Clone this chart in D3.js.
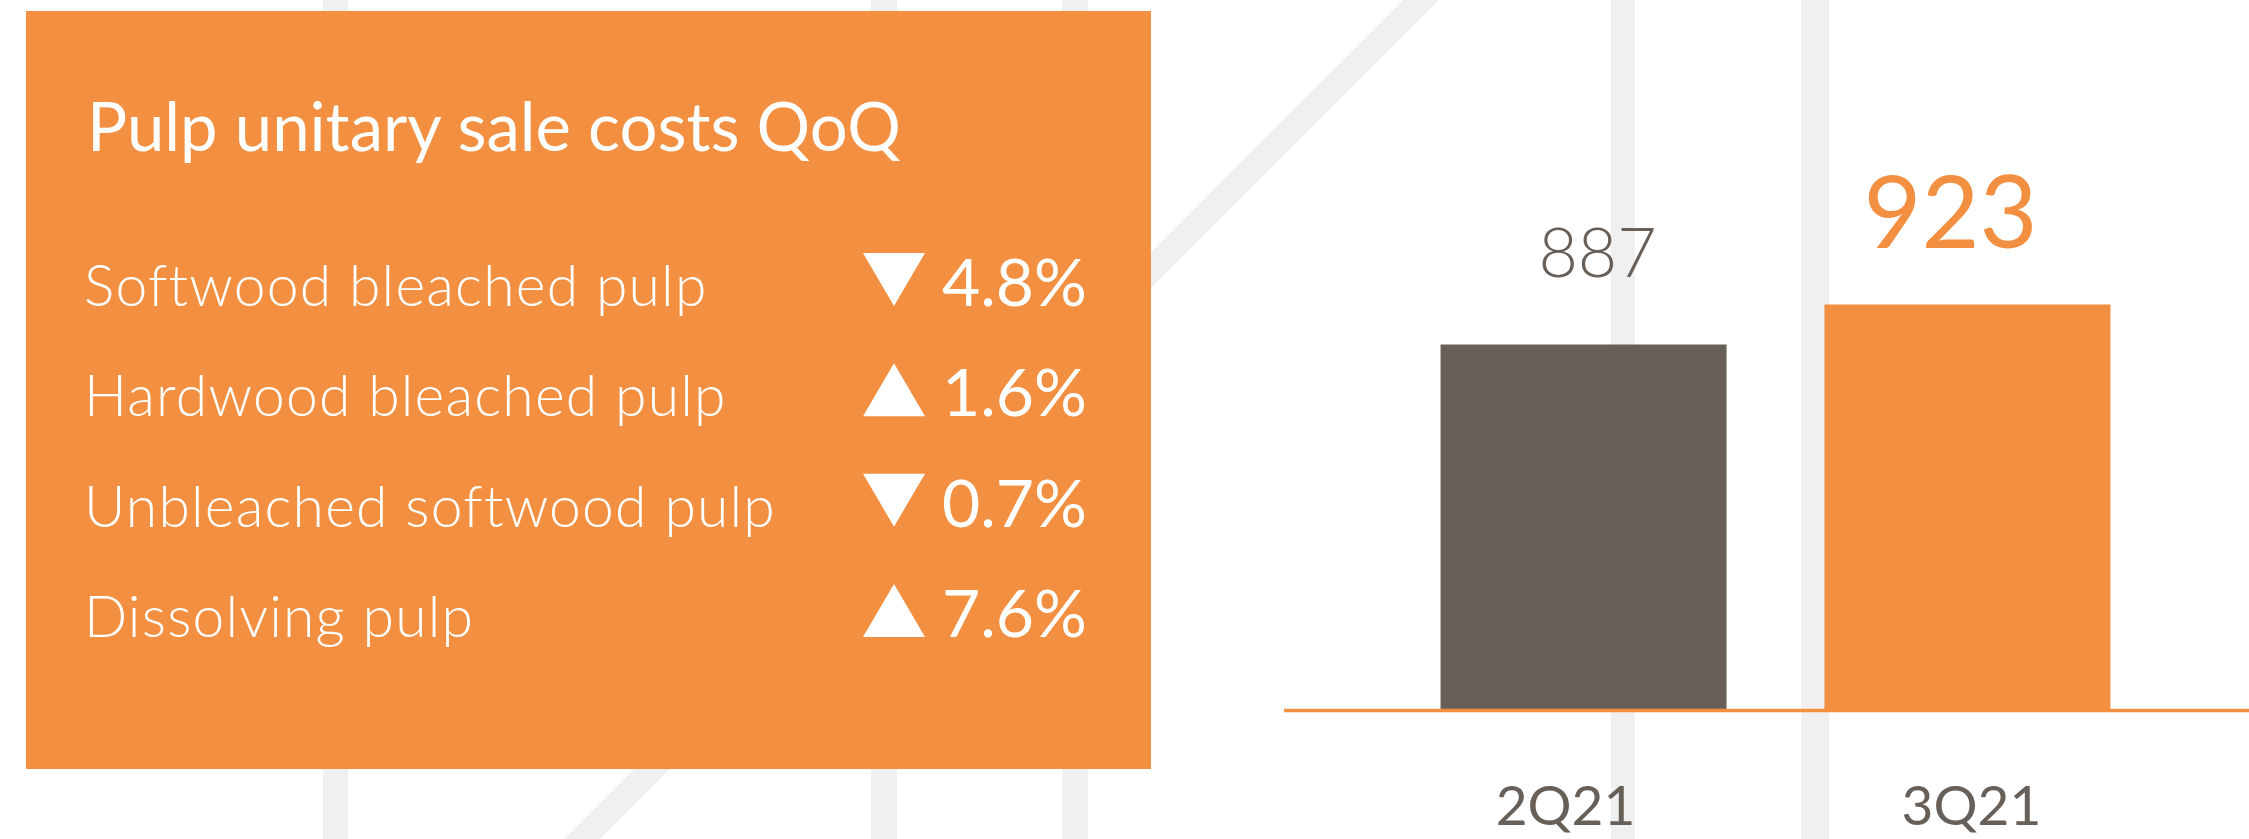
<!DOCTYPE html>
<html>
<head>
<meta charset="utf-8">
<script src="https://cdn.jsdelivr.net/npm/d3@7"></script>
<style>
  html, body { margin: 0; padding: 0; background: #fff; }
  svg { display: block; }
  text { font-family: Lato, "Open Sans", sans-serif; }
</style>
</head>
<body>
<div id="chart"></div>
<script>
// data
const rowLabels = ['Softwood bleached pulp', 'Hardwood bleached pulp', 'Unbleached softwood pulp', 'Dissolving pulp'];
const rowChanges = [-4.8, 1.6, -0.7, 7.6];
const quarters = ['2Q21', '3Q21'];
const costs = [887, 923];

const width = 2249;
const height = 839;
const orange = '#f28f41';
const grey = '#675f58';
const stripe = '#f0f0f0';

const svg = d3.select('#chart').append('svg')
  .attr('width', width)
  .attr('height', height);

// background decoration: pale vertical bands and one diagonal
const bg = svg.append('g');
[[323, 25], [871, 26], [1062, 26], [1611, 24], [1801, 28]].forEach(([x, w]) => {
  bg.append('rect').attr('x', x).attr('y', 0).attr('width', w).attr('height', height).attr('fill', stripe);
});
bg.append('line')
  .attr('x1', 1441).attr('y1', -20)
  .attr('x2', 521).attr('y2', 900)
  .attr('stroke', stripe).attr('stroke-width', 25);

// orange summary box
const box = svg.append('g');
box.append('rect')
  .attr('x', 26).attr('y', 11)
  .attr('width', 1125).attr('height', 758)
  .attr('fill', orange);

box.append('text')
  .attr('x', 87).attr('y', 151)
  .attr('fill', '#fff')
  .attr('font-size', 67)
  .text('Pulp unitary sale costs QoQ');

const rowY = d3.scaleLinear().domain([0, rowLabels.length - 1]).range([306, 637]);

const rows = box.selectAll('g.row')
  .data(rowLabels.map((label, i) => ({ label, change: rowChanges[i], i })))
  .join('g')
  .attr('class', 'row')
  .attr('transform', d => `translate(0,${rowY(d.i)})`);

rows.append('text')
  .attr('x', 84)
  .attr('fill', '#fff')
  .attr('font-size', 57)
  .attr('font-weight', 300)
  .attr('letter-spacing', 1.2)
  .text(d => d.label);

const triW = 62, triH = 53, triX = 894;
rows.append('path')
  .attr('fill', '#fff')
  .attr('d', d => {
    const p = d3.path();
    if (d.change < 0) {
      p.moveTo(triX - triW / 2, -triH);
      p.lineTo(triX + triW / 2, -triH);
      p.lineTo(triX, 0);
    } else {
      p.moveTo(triX - triW / 2, 0);
      p.lineTo(triX + triW / 2, 0);
      p.lineTo(triX, -triH);
    }
    p.closePath();
    return p.toString();
  });

rows.append('text')
  .attr('x', 1087)
  .attr('text-anchor', 'end')
  .attr('fill', '#fff')
  .attr('font-size', 66)
  .text(d => d3.format('.1f')(Math.abs(d.change)) + '%');

// bar chart
const baseY = 709;
const x = d3.scaleBand()
  .domain(quarters)
  .range([1287, 2264])
  .paddingInner(0.255)
  .paddingOuter(0.4);

const y = d3.scaleLinear()
  .domain([559, 1197])
  .range([baseY, 0]);

const chart = svg.append('g');
chart.selectAll('rect.bar')
  .data(quarters.map((q, i) => ({ q, v: costs[i], last: i === quarters.length - 1 })))
  .join('rect')
  .attr('class', 'bar')
  .attr('x', d => x(d.q))
  .attr('y', d => y(d.v))
  .attr('width', x.bandwidth())
  .attr('height', d => baseY - y(d.v))
  .attr('fill', d => d.last ? orange : grey);

chart.append('line')
  .attr('x1', 1284).attr('x2', width)
  .attr('y1', baseY + 1.5).attr('y2', baseY + 1.5)
  .attr('stroke', orange).attr('stroke-width', 3.5);

chart.selectAll('text.value')
  .data(quarters.map((q, i) => ({ q, v: costs[i], last: i === quarters.length - 1 })))
  .join('text')
  .attr('class', 'value')
  .attr('x', d => x(d.q) + x.bandwidth() / 2 + (d.last ? -17 : 14))
  .attr('y', d => y(d.v) - (d.last ? 56 : 67))
  .attr('text-anchor', 'middle')
  .attr('fill', d => d.last ? orange : grey)
  .attr('font-size', d => d.last ? 100 : 68)
  .attr('font-weight', d => d.last ? 400 : 300)
  .text(d => d.v);

const xAxis = chart.append('g')
  .attr('transform', `translate(0,${baseY + 116})`)
  .call(d3.axisBottom(x).tickSize(0).tickPadding(0));
xAxis.select('.domain').remove();
xAxis.selectAll('.tick').attr('transform', d => `translate(${x(d) + x.bandwidth() / 2 + (d === quarters[0] ? -18 : 4)},0)`);
xAxis.selectAll('text')
  .attr('dy', 0)
  .attr('fill', grey)
  .attr('font-size', 55)
  .attr('font-family', 'Lato, "Open Sans", sans-serif');
</script>
</body>
</html>
